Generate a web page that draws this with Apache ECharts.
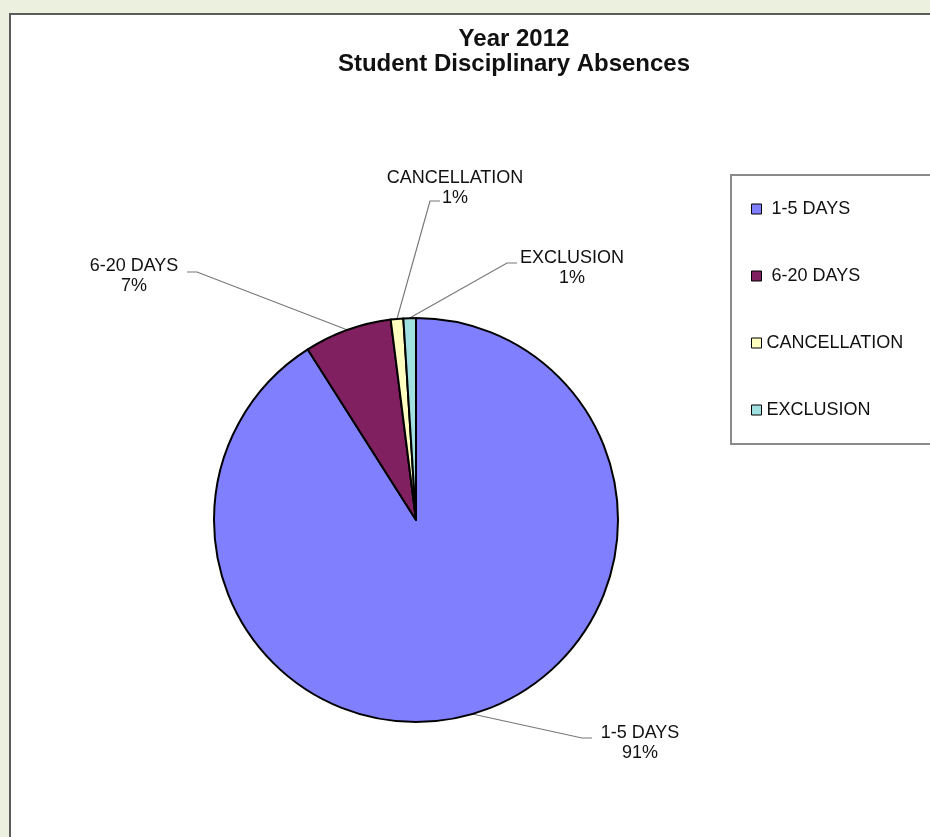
<!DOCTYPE html>
<html>
<head>
<meta charset="utf-8">
<script src="https://cdn.jsdelivr.net/npm/echarts@6/dist/echarts.min.js"></script>
<style>
html,body{margin:0;padding:0;background:#ebf1de;}
#chart{width:930px;height:837px;}
</style>
</head>
<body>
<div id="chart"></div>
<script>
// ---- data ----
var titleLines = ['Year 2012', 'Student Disciplinary Absences'];
var categories = ['1-5 DAYS', '6-20 DAYS', 'CANCELLATION', 'EXCLUSION'];
var percentValues = [91, 7, 1, 1];

// ---- styles / layout ----
var sliceColors = ['#8080ff', '#802060', '#ffffc0', '#a0e0e0'];
var FONT = "'Liberation Sans', Arial, sans-serif";
// label block centre and elbow / end of the leader line for each slice
var labelAnchors = [
  {x: 640, y: 743, elbow: [582, 738], end: [592, 738]},
  {x: 134, y: 276, elbow: [197, 272], end: [187, 272]},
  {x: 455, y: 188, elbow: [430, 201], end: [440, 201]},
  {x: 572, y: 268, elbow: [507, 263], end: [517, 263]}
];

var chart = echarts.init(document.getElementById('chart'), null, {renderer: 'canvas'});

var option = {
  animation: false,
  backgroundColor: '#ebf1de',
  graphic: [{
    type: 'rect',
    z: -10,
    silent: true,
    shape: {x: 10, y: 14, width: 1000, height: 1000},
    style: {fill: '#ffffff', stroke: '#5c5c5c', lineWidth: 2}
  }],
  title: {
    text: titleLines.join('\n'),
    left: 509,
    top: 22,
    textAlign: 'center',
    padding: 5,
    textStyle: {
      fontFamily: FONT,
      fontWeight: 'bold',
      fontSize: 24,
      lineHeight: 25,
      color: '#111'
    }
  },
  legend: {
    orient: 'vertical',
    left: 731,
    top: 175,
    padding: [24, 130, 24, 20],
    itemGap: 47,
    itemWidth: 10,
    itemHeight: 10,
    icon: 'rect',
    selectedMode: false,
    backgroundColor: '#ffffff',
    borderColor: '#8a8a8a',
    borderWidth: 2,
    borderRadius: 0,
    data: categories,
    formatter: function (name) {
      return name.indexOf('DAYS') >= 0 ? ' ' + name : name;
    },
    itemStyle: {borderColor: '#000', borderWidth: 1},
    textStyle: {
      fontFamily: FONT,
      fontSize: 18,
      lineHeight: 20,
      color: '#111'
    }
  },
  series: [{
    type: 'pie',
    center: [416, 520],
    radius: 202,
    startAngle: 90,
    clockwise: true,
    avoidLabelOverlap: false,
    emphasis: {disabled: true},
    itemStyle: {borderColor: '#000', borderWidth: 2},
    label: {
      show: true,
      position: 'outside',
      fontFamily: FONT,
      fontSize: 18,
      lineHeight: 20,
      color: '#111',
      align: 'center',
      formatter: function (p) {
        return p.name + '\n' + Math.round(p.percent) + '%';
      }
    },
    labelLine: {
      show: true,
      length: 20,
      length2: 10,
      smooth: false,
      lineStyle: {color: '#777777', width: 1.2}
    },
    labelLayout: function (params) {
      var a = labelAnchors[params.dataIndex];
      var start = params.labelLinePoints ? params.labelLinePoints[0] : a.elbow;
      return {
        x: a.x,
        y: a.y,
        align: 'center',
        verticalAlign: 'middle',
        labelLinePoints: [start, a.elbow, a.end]
      };
    },
    data: categories.map(function (c, i) {
      return {name: c, value: percentValues[i], itemStyle: {color: sliceColors[i]}};
    })
  }]
};
chart.setOption(option);
</script>
</body>
</html>
